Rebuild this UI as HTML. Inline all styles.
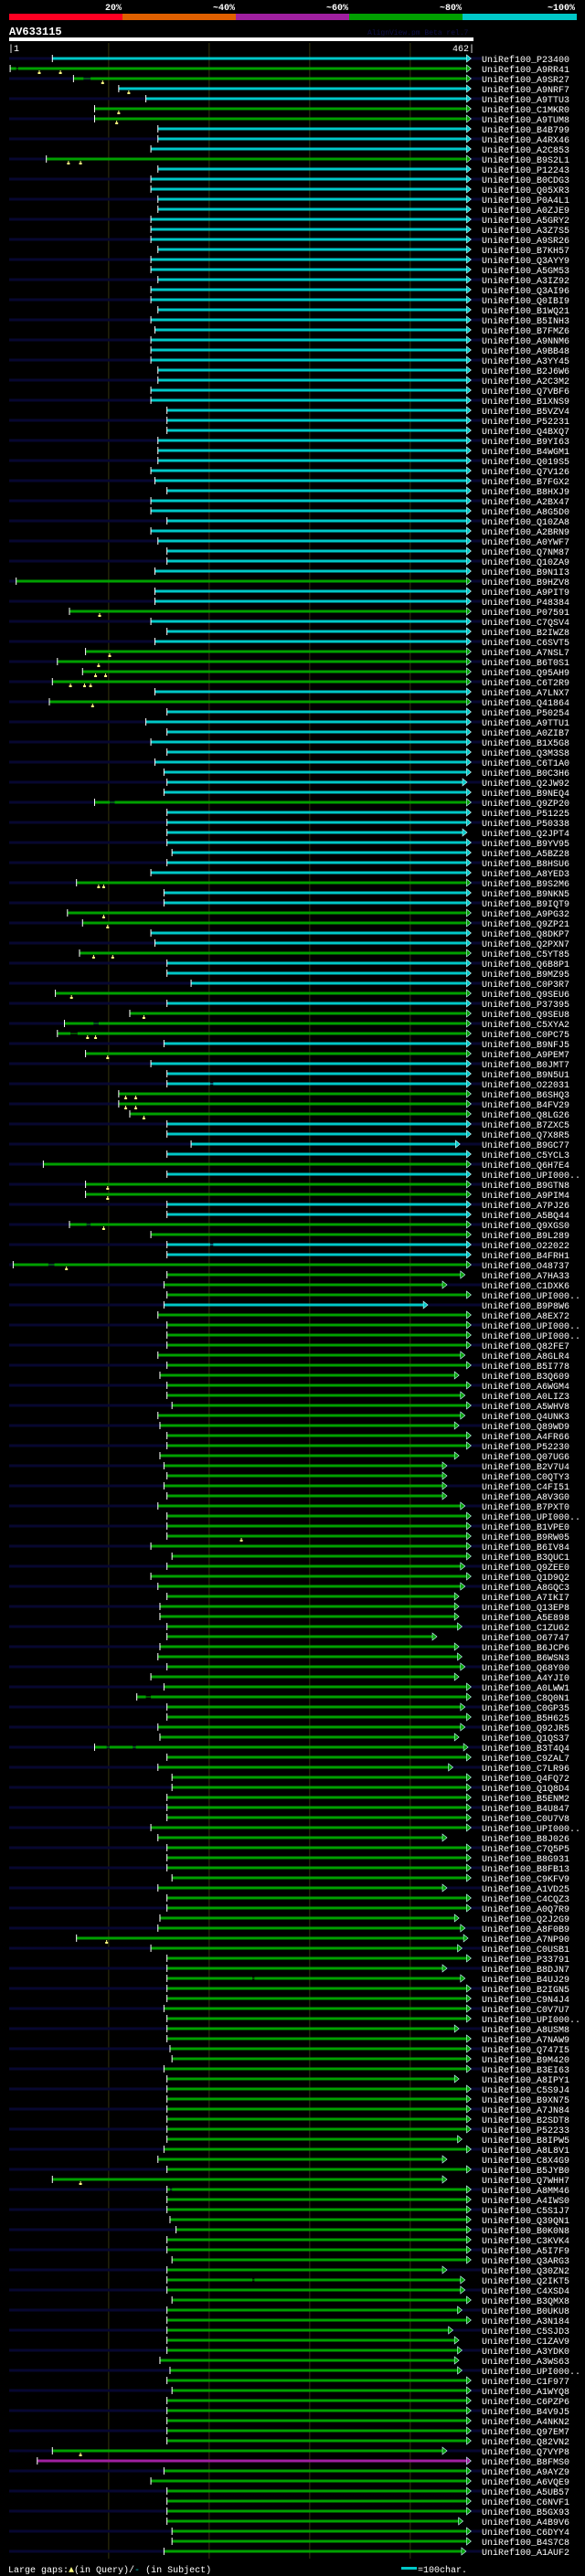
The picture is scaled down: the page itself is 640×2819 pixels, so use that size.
<!DOCTYPE html>
<html><head><meta charset="utf-8">
<style>
html,body{margin:0;padding:0;background:#000;}
body{width:640px;height:2819px;overflow:hidden;}
svg{display:block;}
text{font-family:"Liberation Mono","DejaVu Sans Mono",monospace;}
</style></head>
<body>
<svg id="chart" width="640" height="2819" viewBox="0 0 640 2819" xmlns="http://www.w3.org/2000/svg">
  <g>
    <rect x="10" y="15" width="124" height="7" fill="#ff0022"/>
    <rect x="134" y="15" width="124" height="7" fill="#e06000"/>
    <rect x="258" y="15" width="124" height="7" fill="#a020a0"/>
    <rect x="382" y="15" width="124" height="7" fill="#00a000"/>
    <rect x="506" y="15" width="125" height="7" fill="#00c8c8"/>
    <g font-size="10" font-weight="bold" fill="#fff" text-anchor="end">
      <text x="133" y="11">20%</text>
      <text x="257" y="11">~40%</text>
      <text x="381" y="11">~60%</text>
      <text x="505" y="11">~80%</text>
      <text x="629" y="11">~100%</text>
    </g>
  </g>
  <text x="10" y="38" font-size="12" font-weight="bold" fill="#fff">AV633115</text>
  <text x="402" y="38" font-size="8" fill="#101048">AlignView.pm Beta rel.7</text>
  <rect x="10" y="41" width="508" height="4" fill="#fff"/>
  <text x="9" y="56" font-size="10" fill="#fff">|1</text>
  <text x="519" y="56" font-size="10" fill="#fff" text-anchor="end">462|</text>
  <g id="grid"></g>
  <g id="rows"></g>
  <g>
    <text x="9" y="2815" font-size="10" fill="#fff">Large gaps:<tspan fill="#ffff80">▲</tspan>(in Query)/<tspan fill="#00c8c8">-</tspan> (in Subject)</text>
    <rect x="439" y="2809" width="17" height="3" fill="#00c8c8"/>
    <text x="457" y="2815" font-size="10" fill="#fff">=100char.</text>
  </g>
</svg>
<script>
const labels = ["P23400","A9RR41","A9SR27","A9NRF7","A9TTU3","C1MKR0","A9TUM8","B4B799","A4RX46","A2C853",
"B9S2L1","P12243","B0CDG3","Q05XR3","P0A4L1","A0ZJE9","A5GRY2","A3Z7S5","A9SR26","B7KH57",
"Q3AYY9","A5GM53","A3IZ92","Q3AI96","Q0IBI9","B1WQ21","B5INH3","B7FMZ6","A9NNM6","A9BB48",
"A3YY45","B2J6W6","A2C3M2","Q7VBF6","B1XNS9","B5VZV4","P52231","Q4BXQ7","B9YI63","B4WGM1",
"Q019S5","Q7V126","B7FGX2","B8HXJ9","A2BX47","A8G5D0","Q10ZA8","A2BRN9","A0YWF7","Q7NM87",
"Q10ZA9","B9N1I3","B9HZV8","A9PIT9","P48384","P07591","C7QSV4","B2IWZ8","C6SVT5","A7NSL7",
"B6T0S1","Q95AH9","C6T2R9","A7LNX7","Q41864","P50254","A9TTU1","A0ZIB7","B1X5G8","Q3M3S8",
"C6T1A0","B0C3H6","Q2JW92","B9NEQ4","Q9ZP20","P51225","P50338","Q2JPT4","B9YV95","A5BZ28",
"B8HSU6","A8YED3","B9S2M6","B9NKN5","B9IQT9","A9PG32","Q9ZP21","Q8DKP7","Q2PXN7","C5YT85",
"Q6B8P1","B9MZ95","C0P3R7","Q9SEU6","P37395","Q9SEU8","C5XYA2","C0PC75","B9NFJ5","A9PEM7",
"B0JMT7","B9N5U1","O22031","B6SHQ3","B4FV29","Q8LG26","B7ZXC5","Q7X8R5","B9GC77","C5YCL3",
"Q6H7E4","UPI000..","B9GTN8","A9PIM4","A7PJ26","A5BQ44","Q9XGS0","B9L289","O22022","B4FRH1",
"O48737","A7HA33","C1DXK6","UPI000..","B9P8W6","A8EX72","UPI000..","UPI000..","Q82FE7","A8GLR4",
"B5I778","B3Q609","A6WGM4","A0LIZ3","A5WHV8","Q4UNK3","Q89WD9","A4FR66","P52230","Q07UG6",
"B2V7U4","C0QTY3","C4FI51","A8V3G0","B7PXT0","UPI000..","B1VPE0","B9RW05","B6IV84","B3QUC1",
"Q9ZEE0","Q1D9Q2","A8GQC3","A7IKI7","Q13EP8","A5E898","C1ZU62","O67747","B6JCP6","B6WSN3",
"Q68Y00","A4YJI0","A0LWW1","C8Q0N1","C0GP35","B5H625","Q92JR5","Q1QS37","B3T4Q4","C9ZAL7",
"C7LR96","Q4FQ72","Q1Q8D4","B5ENM2","B4U847","C0U7V8","UPI000..","B8J026","C7Q5P5","B8G931",
"B8FB13","C9KFV9","A1VD25","C4CQZ3","A0Q7R9","Q2J2G9","A8F0B9","A7NP90","C0USB1","P33791",
"B8DJN7","B4UJ29","B2IGN5","C9N4J4","C0V7U7","UPI000..","A8USM8","A7NAW9","Q747I5","B9M420",
"B3EI63","A8IPY1","C5S9J4","B9XN75","A7JN84","B2SDT8","P52233","B8IPW5","A8L8V1","C8X4G9",
"B5JYB0","Q7WHH7","A8MM46","A4IWS0","C5S1J7","Q39QN1","B0K0N8","C3KVK4","A5I7F9","Q3ARG3",
"Q30ZN2","Q2IKT5","C4XSD4","B3QMX8","B0UKU8","A3N184","C5SJD3","C1ZAV9","A3YDK0","A3WS63",
"UPI000..","C1F977","A1WYQ8","C6PZP6","B4V9J5","A4NKN2","Q97EM7","Q82VN2","Q7VYP8","B8FMS0",
"A9AYZ9","A6VQE9","A5UB57","C6NVF1","B5GX93","A4B9V6","C6DYY4","B4S7C8","A1AUF2"];
// identity class per row: c = ~100%, g = ~80%, m = ~60%
const colors = [
"cggccggccc","gccccccccc","cccccccccc","cccccccccc","cccccccccc",
"ccgccgcccg","gggcgccccc","ccccgccccc","ccgccggccg","cccgcgggcg",
"cccgggcccc","gcggccggcc","ggggcggggg","gggggggggg","gggggggggg",
"gggggggggg","gggggggggg","gggggggggg","gggggggggg","gggggggggg",
"gggggggggg","gggggggggg","gggggggggg","gggggggggm","ggggggggg"].join("").split("");
const starts = [44,2,65,110,137,86,86,149,149,142,
38,149,142,142,149,149,142,142,142,149,
142,142,149,142,142,149,142,146,142,142,
142,149,149,142,142,158,158,158,149,149,
149,142,146,158,142,142,158,142,149,158,
158,146,8,146,146,61,142,158,146,77,
49,74,44,146,41,158,137,158,142,158,
146,155,158,155,86,158,158,158,158,163,
158,142,68,155,155,59,74,142,146,71,
158,158,182,47,158,121,56,49,155,77,
142,158,158,110,110,121,158,158,182,158,
35,158,77,77,158,158,61,142,158,158,
5,158,155,158,155,149,158,158,158,149,
158,151,158,158,163,149,151,158,158,151,
155,158,155,158,149,158,158,158,142,163,
158,142,149,158,151,151,158,158,151,149,
158,142,155,128,158,158,149,151,86,158,
149,163,163,158,158,158,142,149,158,158,
158,163,149,158,158,151,149,68,142,158,
158,158,158,158,155,158,158,158,161,163,
155,158,158,158,158,158,158,158,155,149,
158,44,158,158,158,161,167,158,158,163,
158,158,158,163,158,158,158,158,158,151,
161,158,163,158,158,158,158,158,44,29,
155,142,158,158,158,158,163,163,155];
const ends = [456,456,456,456,456,456,456,456,456,456,
456,456,456,456,456,456,456,456,456,456,
456,456,456,456,456,456,456,456,456,456,
456,456,456,456,456,456,456,456,456,456,
456,456,456,456,456,456,456,456,456,456,
456,456,456,456,456,456,456,456,456,456,
456,456,456,456,456,456,456,456,456,456,
456,456,452,456,456,456,456,452,456,456,
456,456,456,456,456,456,456,456,456,456,
456,456,456,456,456,456,456,456,456,456,
456,456,456,456,456,456,456,456,445,456,
456,456,456,456,456,456,456,456,456,456,
456,450,432,456,413,456,456,456,456,450,
456,444,456,450,456,450,444,456,456,444,
432,432,432,432,450,456,456,456,456,456,
450,456,450,444,444,444,447,422,444,447,
450,444,456,456,450,456,450,444,453,456,
438,456,456,456,456,456,456,432,456,456,
456,456,432,456,456,444,450,453,447,456,
432,450,456,456,456,456,444,456,456,456,
456,444,456,456,456,456,456,447,456,432,
456,432,456,456,456,456,456,456,456,456,
432,450,450,456,447,456,438,444,447,444,
447,456,456,456,456,456,456,456,432,456,
456,456,456,456,456,448,456,456,451];
// large gaps in query: [row, residue]
const queryGaps = [[1,31],[1,52],[2,94],[3,120],[5,110],[6,108],[10,60],[10,72],
[55,91],[59,101],[60,90],[61,87],[61,97],[62,62],[62,76],[62,82],[64,84],
[82,90],[82,95],[85,95],[86,99],[89,85],[89,104],[93,63],[95,135],[97,79],[97,87],
[99,99],[103,117],[103,127],[104,117],[104,127],[105,135],[112,99],[113,99],[116,95],
[120,58],[147,232],[187,98],[211,72],[238,72]];
// large gaps in subject: [row, from, to]
const subjectGaps = [[1,8,10],[2,75,82],[74,101,106],[96,85,90],[97,62,69],[102,201,204],
[116,78,82],[118,201,204],[120,40,46],[163,137,142],[168,98,101],[168,124,127],
[191,243,245],[221,243,245],[212,161,163]];

const NS = "http://www.w3.org/2000/svg";
const X0 = 10, X1 = 517, QLEN = 462, Y0 = 64, ROWH = 11;
const COL = {c:"#00c8c8", g:"#00a000", m:"#a020a0"};
function xScale(r){ return X0 + (r-1)*(X1-X0)/(QLEN-1); }
function yRow(i){ return Y0 + i*ROWH; }
function mk(tag, attrs, parent){
  const e = document.createElementNS(NS, tag);
  for (const k in attrs) e.setAttribute(k, attrs[k]);
  parent.appendChild(e);
  return e;
}
const grid = document.getElementById("grid");
const gridTicks = [100,200,300,400];
gridTicks.forEach(t => {
  const l = mk("line", {x1:xScale(t), x2:xScale(t), y1:47, y2:2800, stroke:"#34340e", "stroke-width":1}, grid);
  
  
});
const rowsG = document.getElementById("rows");
labels.forEach((lab, i) => {
  const y = yRow(i);
  const g = mk("g", {}, rowsG);
  
  
  if (i % 2 === 0) {
    const s = mk("rect", {x:X0, y:y-1.5, width:517, height:3, fill:"#070730"}, g);
    
    
  }
  const col = COL[colors[i]] || COL.g;
  const xs = xScale(starts[i]), xe = xScale(ends[i]);
  const bar = mk("rect", {x:xs, y:y-1.5, width:xe-xs, height:3, fill:col}, g);
  
  
  const tick = mk("rect", {x:xs-0.5, y:y-4, width:1, height:8, fill:"#fff"}, g);
  
  
  const arr = mk("polygon", {points:`${xe},${y-4} ${xe+5},${y} ${xe},${y+4}`, fill:col, stroke:"#c8ffff", "stroke-width":0.6}, g);
  
  
  const t = mk("text", {x:527, y:y+4, "font-size":10, fill:"#fff"}, g);
  t.textContent = "UniRef100_" + lab;
  
  
});
subjectGaps.forEach(([r,a,b]) => {
  const y = yRow(r);
  const cut = mk("rect", {x:xScale(a), y:y-1.5, width:xScale(b)-xScale(a), height:3, fill:(r%2===0?"#070730":"#000")}, rowsG);
  
  
  const thin = mk("rect", {x:xScale(a), y:y-0.5, width:xScale(b)-xScale(a), height:1, fill:COL[colors[r]]}, rowsG);
  
  
});
queryGaps.forEach(([r,p]) => {
  const y = yRow(r), x = xScale(p);
  const m = mk("path", {d:`M${x-0.5},${y+2}h1v2h1v2h-3v-2h1z`, fill:"#ffff80"}, rowsG);
  
  
});
</script>
</body></html>
